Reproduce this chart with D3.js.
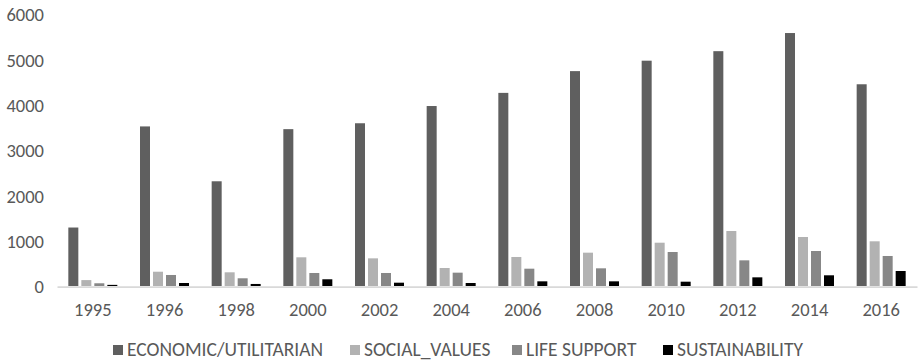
<!DOCTYPE html>
<html>
<head>
<meta charset="utf-8">
<script src="https://cdn.jsdelivr.net/npm/d3@7/dist/d3.min.js"></script>
<style>
  html, body { margin: 0; padding: 0; background: #fff; }
  svg { display: block; }
  text { font-family: Carlito, Calibri, Lato, sans-serif; fill: #595959; }
</style>
</head>
<body>
<svg id="chart" width="918" height="362"></svg>
<script>
// Publication counts per year, by category of ecosystem-service valuation
const years = ["1995", "1996", "1998", "2000", "2002", "2004", "2006", "2008", "2010", "2012", "2014", "2016"];
const seriesNames = ["ECONOMIC/UTILITARIAN", "SOCIAL_VALUES", "LIFE SUPPORT", "SUSTAINABILITY"];
const economic = [1290, 3520, 2310, 3460, 3590, 3970, 4260, 4740, 4970, 5180, 5580, 4450];
const socialValues = [130, 315, 302, 633, 610, 397, 640, 735, 955, 1213, 1081, 986];
const lifeSupport = [60, 243, 170, 287, 287, 294, 382, 390, 750, 566, 772, 662];
const sustainability = [25, 66, 45, 148, 73, 66, 103, 103, 95, 191, 236, 331];
const yTicks = [0, 1000, 2000, 3000, 4000, 5000, 6000];
const colors = ["#5f5f5f", "#b2b2b2", "#878787", "#000000"];

const seriesValues = [economic, socialValues, lifeSupport, sustainability];
const rows = years.map((yr, i) => ({
  year: yr,
  values: seriesNames.map((name, s) => ({ name, value: seriesValues[s][i], color: colors[s] }))
}));

const svg = d3.select("#chart");
const fontStack = "Carlito, Calibri, Lato, sans-serif";

const y = d3.scaleLinear().domain([0, 6000]).range([286, 14]);
const x0 = d3.scaleBand().domain(years).range([57, 917]).paddingInner(0).paddingOuter(0);
const groupWidth = 49;
const groupOffset = (x0.bandwidth() - groupWidth) / 2;
const x1 = d3.scaleBand().domain(seriesNames)
  .range([groupOffset, groupOffset + groupWidth])
  .paddingInner(3 / 13).paddingOuter(0);

// Y axis labels (no axis line, no gridlines)
const yAxis = d3.axisLeft(y).tickValues(yTicks).tickSize(0).tickPadding(0).tickFormat(d3.format("d"));
const gy = svg.append("g").attr("transform", "translate(44,0)").call(yAxis);
gy.select(".domain").remove();
gy.selectAll("text").attr("font-size", 18.5).style("fill", "#595959")
  .style("font-family", fontStack).attr("dy", "0.36em");

// Bars
const groups = svg.append("g").selectAll("g")
  .data(rows).join("g")
  .attr("transform", d => `translate(${x0(d.year)},0)`);

groups.selectAll("rect")
  .data(d => d.values).join("rect")
  .attr("x", d => x1(d.name))
  .attr("width", x1.bandwidth())
  .attr("y", d => y(d.value))
  .attr("height", d => y(0) - y(d.value))
  .attr("fill", d => d.color);

// X axis: light baseline and year labels
const xAxis = d3.axisBottom(x0).tickSize(0).tickPadding(0);
const gx = svg.append("g").attr("transform", "translate(0,286.6)").call(xAxis);
gx.select(".domain").attr("stroke", "#d9d9d9").attr("stroke-width", 1.6);
gx.selectAll("text").attr("font-size", 18.5).style("fill", "#595959")
  .style("font-family", fontStack).attr("y", 29.5).attr("dy", 0);

// Legend
const legendItems = [
  { name: seriesNames[0], color: colors[0], x: 113 },
  { name: seriesNames[1], color: colors[1], x: 350 },
  { name: seriesNames[2], color: colors[2], x: 512 },
  { name: seriesNames[3], color: colors[3], x: 663 }
];
const lg = svg.append("g").selectAll("g").data(legendItems).join("g")
  .attr("transform", d => `translate(${d.x},345)`);
lg.append("rect").attr("width", 10).attr("height", 10).attr("fill", d => d.color);
lg.append("text").attr("x", 14).attr("y", 11).attr("font-size", 19.5).text(d => d.name);
</script>
</body>
</html>
